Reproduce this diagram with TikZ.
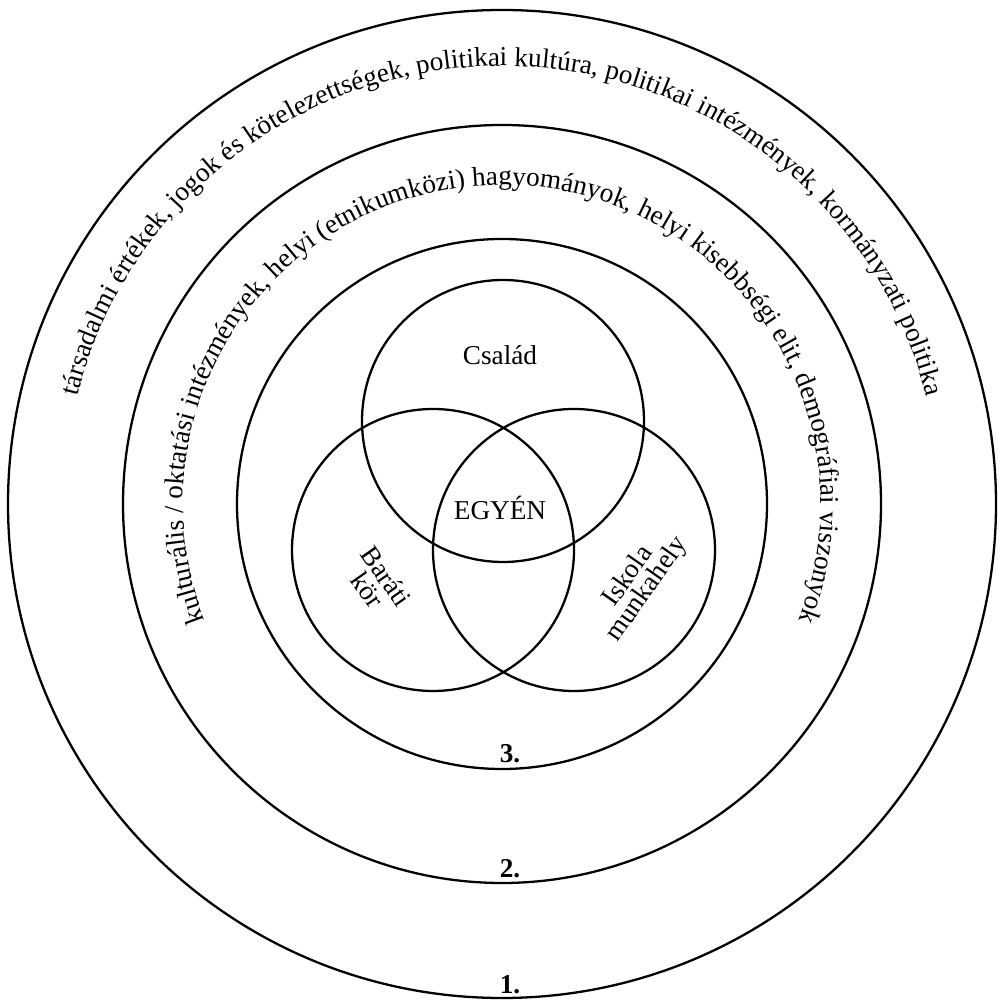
\documentclass[tikz,border=0pt]{standalone}
\usepackage{fontspec}
\setmainfont{Liberation Serif}
\usetikzlibrary{decorations.text}
\newcommand{\ringfont}{\fontsize{15.5}{18}\selectfont}
\tikzset{
  ring/.style={draw, line width=1.3pt},
  venn/.style={draw, line width=1.3pt},
  lbl/.style={font=\fontsize{15.5}{13}\selectfont, align=center, inner sep=0pt},
  num/.style={font=\fontsize{15.5}{18}\selectfont\bfseries, anchor=base, inner sep=0pt},
}

\begin{document}
\begin{tikzpicture}[x=0.2mm, y=0.2mm]
\useasboundingbox (0,0) rectangle (1000,1000);

% --- common centre of the three rings ---
\coordinate (cc) at (502,496);

% --- rings 1., 2., 3. ---
\draw[ring] (cc) circle[radius=494];
\draw[ring] (cc) circle[radius=379];
\draw[ring] (cc) circle[radius=265];

% --- curved texts along the rings ---
\path[decorate, decoration={text along path, text align=center,
  text={|\ringfont|társadalmi értékek, jogok és kötelezettségek, politikai kultúra, politikai intézmények, kormányzati politika}}]
  (cc) ++(180:438) arc[start angle=180, end angle=0, radius=438];
\path[decorate, decoration={text along path, text align=center,
  text={|\ringfont|kulturális / oktatási intézmények, helyi (etnikumközi) hagyományok, helyi kisebbségi elit, demográfiai viszonyok}}]
  (cc) ++(215:319) arc[start angle=215, end angle=-35, radius=319];

% --- Venn circles ---
\coordinate (vtop)   at (503,579);
\coordinate (vleft)  at (433,450);
\coordinate (vright) at (574,450);
\draw[venn] (vtop)   circle[radius=141];
\draw[venn] (vleft)  circle[radius=141];
\draw[venn] (vright) circle[radius=141];

% --- labels ---
\node[lbl] (csalad) at (500,645) {Család};
\node[lbl] (egyen)  at (500,492) {EGYÉN};
\node[lbl, rotate=-55] (barati)  at (377,417) {Baráti\\kör};
\node[lbl, rotate=55]  (iskola)  at (638,417) {Iskola\\munkahely};

% --- ring numbers ---
\node[num] (n1) at (510,7)   {1.};
\node[num] (n2) at (510,122) {2.};
\node[num] (n3) at (510,237) {3.};

\end{tikzpicture}
\end{document}
